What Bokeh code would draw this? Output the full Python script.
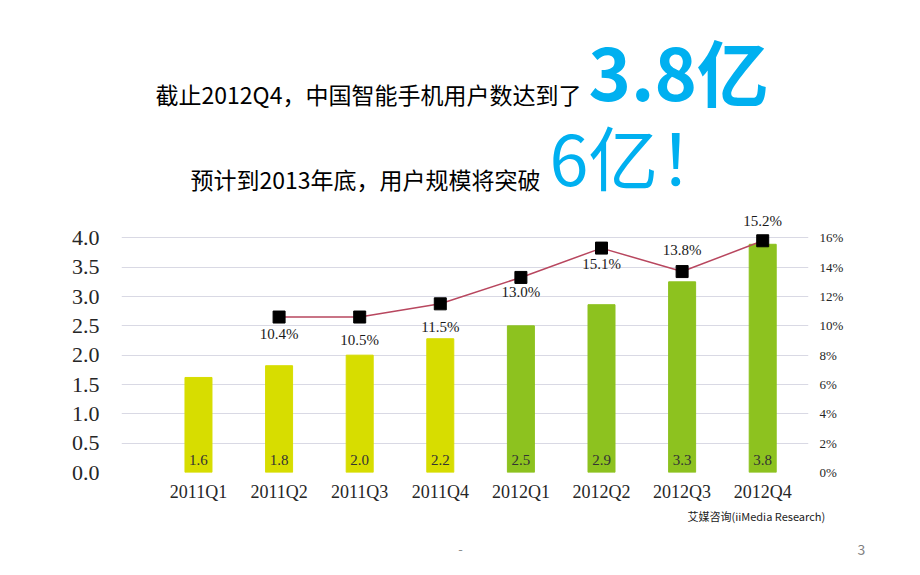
from bokeh.plotting import figure
from bokeh.layouts import column
from bokeh.models import Range1d, LinearAxis, FixedTicker, ColumnDataSource
from bokeh.core.properties import value
from bokeh.embed import file_html
from bokeh.resources import INLINE

# ---- data ----
quarters = ["2011Q1", "2011Q2", "2011Q3", "2011Q4", "2012Q1", "2012Q2", "2012Q3", "2012Q4"]
users = [1.62, 1.82, 2.0, 2.28, 2.5, 2.86, 3.25, 3.89]          # 亿
user_labels = ["1.6", "1.8", "2.0", "2.2", "2.5", "2.9", "3.3", "3.8"]
growth_quarters = quarters[1:]
growth = [10.6, 10.6, 11.5, 13.3, 15.3, 13.7, 15.8]             # %
growth_labels = ["10.4%", "10.5%", "11.5%", "13.0%", "15.1%", "13.8%", "15.2%"]
left_ticks = [0.0, 0.5, 1.0, 1.5, 2.0, 2.5, 3.0, 3.5, 4.0]
grid_ticks = [0.0, 0.5, 1.0, 1.5, 2.0, 2.5, 3.0, 3.5, 4.0, 4.5]
right_ticks = [0, 2, 4, 6, 8, 10, 12, 14, 16]
headline_1 = "截止2012Q4，中国智能手机用户数达到了"
headline_1_big = "3.8亿"
headline_2 = "预计到2013年底，用户规模将突破"
headline_2_big = "6亿！"
source_note = "艾媒咨询(iiMedia Research)"
page_number = "3"

# ---- styles ----
bar_colors = ["#d7dd00"] * 4 + ["#8dc21f"] * 4
label_dy = [17, 23, 23, 15, 16, -22, -20]
SERIF = "Liberation Serif"
CJK = "Noto Sans CJK SC"
CYAN = "#00b0f0"
W = 904
HEAD_H, CHART_H, FOOT_H = 208, 297, 54


def blank(h, y_top):
    f = figure(width=W, height=h, x_range=Range1d(0, W), y_range=Range1d(y_top + h, y_top),
               output_backend="svg", toolbar_location=None, x_axis_type=None, y_axis_type=None,
               min_border=0, outline_line_color=None, background_fill_color="white",
               border_fill_color="white", frame_align=False)
    f.grid.visible = False
    return f


def txt(f, t, X, Y, size, color="black", font=CJK, style="normal", align="left"):
    f.text(x=[X], y=[Y], text=[t], text_font=value(font), text_font_size=size, text_color=color,
           text_font_style=style, text_baseline="middle", text_align=align)


# ---- header ----
head = blank(HEAD_H, 0)
txt(head, headline_1, 155, 93, "23px")
txt(head, headline_1_big, 588, 69, "72px", color=CYAN, style="bold")
txt(head, headline_2, 190, 178, "23px")
txt(head, headline_2_big, 549, 155, "70px", color=CYAN)

# ---- chart ----
xs = list(range(len(quarters)))
gx = [quarters.index(q) for q in growth_quarters]

p = figure(width=W, height=CHART_H, x_range=Range1d(-0.955, 7.568), y_range=Range1d(0, 4.5),
           output_backend="svg", toolbar_location=None, frame_align=False,
           min_border_left=121, min_border_right=W - 808, min_border_top=0, min_border_bottom=33,
           outline_line_color=None, background_fill_color="white", border_fill_color="white")
p.extra_y_ranges = {"rate": Range1d(0, 18)}

bars = ColumnDataSource(dict(x=xs, top=users, color=bar_colors, label=user_labels))
p.vbar(x="x", top="top", width=0.335, color="color", source=bars)
p.text(x="x", y=0, text="label", source=bars, y_offset=-13, text_align="center",
       text_baseline="middle", text_font=value(SERIF), text_font_size="15px", text_color="#333333")

rates = ColumnDataSource(dict(x=gx, y=growth, label=growth_labels, dy=label_dy))
p.line(x="x", y="y", source=rates, y_range_name="rate", line_color="#b8475f", line_width=1.5)
p.scatter(x="x", y="y", source=rates, y_range_name="rate", marker="square", size=12,
          fill_color="black", line_color="black")
p.text(x="x", y="y", text="label", source=rates, y_range_name="rate", y_offset="dy",
       text_align="center", text_baseline="middle", text_font=value(SERIF),
       text_font_size="15px", text_color="#1a1a1a")

p.yaxis.ticker = FixedTicker(ticks=left_ticks)
p.yaxis.major_label_overrides = {t: f"{t:.1f}" for t in left_ticks}
p.xaxis.ticker = FixedTicker(ticks=xs)
p.xaxis.major_label_overrides = {i: q for i, q in zip(xs, quarters)}
ra = LinearAxis(y_range_name="rate", ticker=FixedTicker(ticks=right_ticks),
                major_label_overrides={t: f"{t}%" for t in right_ticks})
p.add_layout(ra, "right")

for ax, size, standoff in ((p.yaxis[0], "22px", 22), (p.xaxis[0], "18px", 9), (ra, "13px", 11)):
    ax.axis_line_color = None
    ax.major_tick_line_color = None
    ax.minor_tick_line_color = None
    ax.major_tick_out = 0
    ax.major_tick_in = 0
    ax.minor_tick_out = 0
    ax.major_label_standoff = standoff
    ax.major_label_text_font = SERIF
    ax.major_label_text_font_size = size
    ax.major_label_text_color = "#262626"

p.xgrid.visible = False
p.ygrid.ticker = FixedTicker(ticks=grid_ticks)
p.ygrid.grid_line_color = "#d9d9e4"
p.ygrid.grid_line_width = 1.2

# ---- footer ----
foot = blank(FOOT_H, HEAD_H + CHART_H)
txt(foot, source_note, 687, 515, "11px", color="#222222")
txt(foot, "-", 460, 548, "13px", color="#8c8c8c", align="center")
txt(foot, page_number, 861, 549, "14px", color="#7f7f7f", align="center")

layout = column(head, p, foot, spacing=0)
open("out.html", "w").write(file_html(layout, INLINE))
